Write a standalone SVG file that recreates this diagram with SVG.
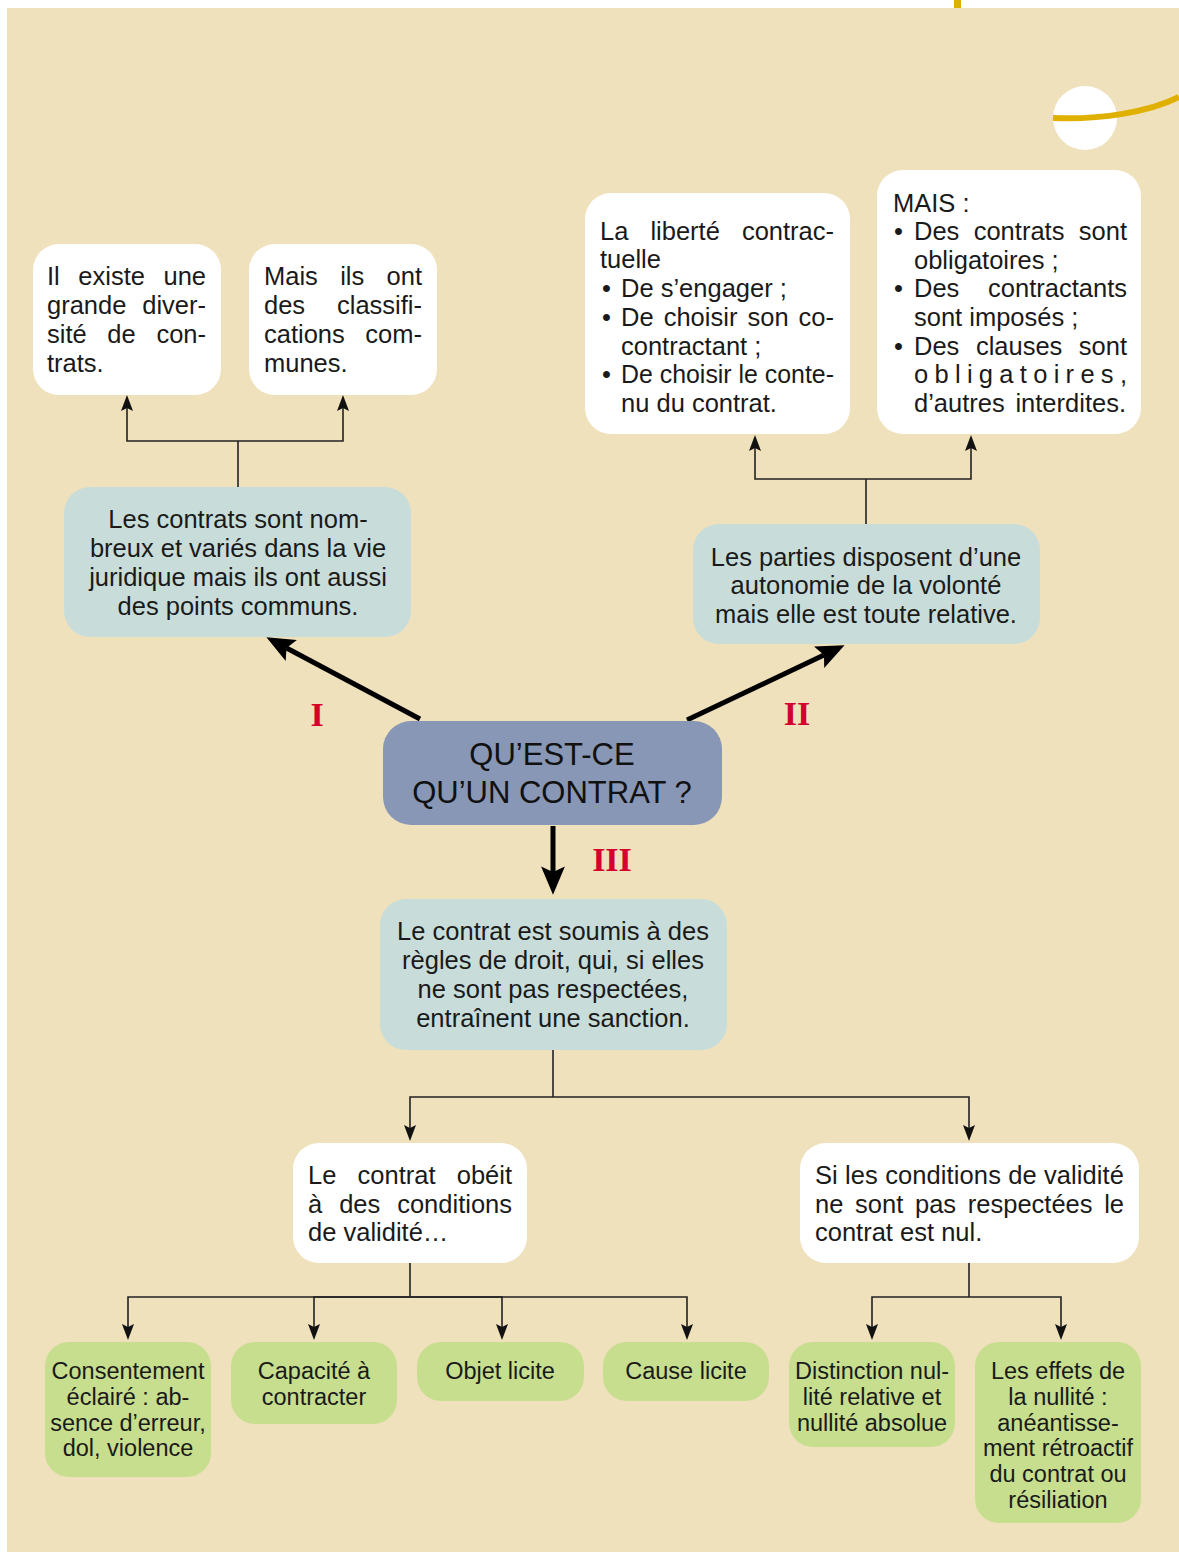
<svg xmlns="http://www.w3.org/2000/svg" width="1179" height="1553" viewBox="0 0 1179 1553">
<style>
.t{font-family:"Liberation Sans",Arial,sans-serif;font-size:25.5px;fill:#1a1a1a}
.c{text-anchor:middle}
.e{text-anchor:end}
.g{font-family:"Liberation Sans",Arial,sans-serif;font-size:23.5px;fill:#1a1a1a;text-anchor:middle}
.h{font-family:"Liberation Sans",Arial,sans-serif;font-size:31px;fill:#111;text-anchor:middle}
.r{font-family:"Liberation Serif","Times New Roman",serif;font-size:34px;font-weight:bold;fill:#D6002F;text-anchor:middle}
.w{fill:#fff}
.b{fill:#C8DDD9}
.gr{fill:#C6DE8E}
.thin{fill:none;stroke:#222;stroke-width:1.6}
.thick{fill:none;stroke:#000;stroke-width:5}
</style>
<defs>
<marker id="ah" markerUnits="userSpaceOnUse" markerWidth="20" markerHeight="14" viewBox="0 -7 17 14" refX="3" refY="0" orient="auto">
<path d="M0,-6 L16,0 L0,6 L3,0 z" fill="#111"/>
</marker>
<marker id="AH" markerUnits="userSpaceOnUse" markerWidth="30" markerHeight="26" viewBox="0 -12 27 24" refX="5" refY="0" orient="auto">
<path d="M0,-11 L26,0 L0,11 L5,0 z" fill="#000"/>
</marker>
</defs>
<rect x="0" y="0" width="1179" height="1553" fill="#fff"/>
<rect x="7" y="8" width="1172" height="1544" fill="#F0E1BD"/>
<rect x="954" y="0" width="7" height="8" fill="#E0B000"/>
<circle cx="1085" cy="118" r="32" fill="#fff"/>
<path d="M1053,118 C1100,120 1150,112 1179,97" fill="none" stroke="#E0B000" stroke-width="6"/>

<g id="connectors">
<path class="thin" d="M238,487 V441"/>
<path class="thin" d="M238,441 H127 V408" marker-end="url(#ah)"/>
<path class="thin" d="M238,441 H343 V408" marker-end="url(#ah)"/>
<path class="thin" d="M866,524 V479"/>
<path class="thin" d="M866,479 H755 V448" marker-end="url(#ah)"/>
<path class="thin" d="M866,479 H971 V448" marker-end="url(#ah)"/>
<path class="thin" d="M553,1050 V1097"/>
<path class="thin" d="M553,1097 H410 V1128" marker-end="url(#ah)"/>
<path class="thin" d="M553,1097 H969 V1128" marker-end="url(#ah)"/>
<path class="thin" d="M410,1263 V1297"/>
<path class="thin" d="M410,1297 H128 V1327" marker-end="url(#ah)"/>
<path class="thin" d="M410,1297 H314 V1327" marker-end="url(#ah)"/>
<path class="thin" d="M410,1297 H502 V1327" marker-end="url(#ah)"/>
<path class="thin" d="M410,1297 H687 V1327" marker-end="url(#ah)"/>
<path class="thin" d="M969,1263 V1297"/>
<path class="thin" d="M969,1297 H872 V1327" marker-end="url(#ah)"/>
<path class="thin" d="M969,1297 H1061 V1327" marker-end="url(#ah)"/>
<path class="thick" d="M420,719 L286.5,648" marker-end="url(#AH)"/>
<path class="thick" d="M687,720 L824,655" marker-end="url(#AH)"/>
<path class="thick" d="M553,826 V872" marker-end="url(#AH)"/>
<text class="r" x="317" y="726">I</text>
<text class="r" x="797" y="725">II</text>
<text class="r" x="612" y="871">III</text>
</g>

<g id="n-diversite">
<rect class="w" x="33" y="244" width="188" height="151" rx="26"/>
<text class="t" y="285"><tspan x="47">Il</tspan><tspan x="78.3">existe</tspan><tspan class="e" x="206">une</tspan></text>
<text class="t" y="314"><tspan x="47">grande</tspan><tspan class="e" x="206">diver-</tspan></text>
<text class="t" y="343"><tspan x="47">sité</tspan><tspan x="107.3">de</tspan><tspan class="e" x="206">con-</tspan></text>
<text class="t" x="47" y="372">trats.</text>
</g>

<g id="n-classifications">
<rect class="w" x="249" y="244" width="188" height="151" rx="26"/>
<text class="t" y="285"><tspan x="264">Mais</tspan><tspan x="340.2">ils</tspan><tspan class="e" x="422">ont</tspan></text>
<text class="t" y="314"><tspan x="264">des</tspan><tspan class="e" x="422">classifi-</tspan></text>
<text class="t" y="343"><tspan x="264">cations</tspan><tspan class="e" x="422">com-</tspan></text>
<text class="t" x="264" y="372">munes.</text>
</g>

<g id="n-liberte">
<rect class="w" x="585" y="193" width="265" height="241" rx="26"/>
<text class="t" y="240"><tspan x="600">La</tspan><tspan x="650.4">liberté</tspan><tspan class="e" x="834">contrac-</tspan></text>
<text class="t" x="600" y="268">tuelle</text>
<text class="t" x="602" y="297">•</text>
<text class="t" x="621" y="297">De s’engager ;</text>
<text class="t" x="602" y="326">•</text>
<text class="t" y="326"><tspan x="621">De</tspan><tspan x="663.7">choisir</tspan><tspan x="747.5">son</tspan><tspan class="e" x="834">co-</tspan></text>
<text class="t" x="621" y="355">contractant ;</text>
<text class="t" x="602" y="383">•</text>
<text class="t" x="621" y="383" textLength="213" lengthAdjust="spacingAndGlyphs">De choisir le conte-</text>
<text class="t" x="621" y="412">nu du contrat.</text>
</g>

<g id="n-mais">
<rect class="w" x="877" y="170" width="264" height="264" rx="26"/>
<text class="t" x="893" y="212">MAIS :</text>
<text class="t" x="894" y="240">•</text>
<text class="t" y="240"><tspan x="914">Des</tspan><tspan x="973.7">contrats</tspan><tspan class="e" x="1127">sont</tspan></text>
<text class="t" x="914" y="269">obligatoires ;</text>
<text class="t" x="894" y="297">•</text>
<text class="t" y="297"><tspan x="914">Des</tspan><tspan class="e" x="1127">contractants</tspan></text>
<text class="t" x="914" y="326">sont imposés ;</text>
<text class="t" x="894" y="355">•</text>
<text class="t" y="355"><tspan x="914">Des</tspan><tspan x="975.9">clauses</tspan><tspan class="e" x="1127">sont</tspan></text>
<text class="t" x="914" y="383" textLength="213" lengthAdjust="spacing">obligatoires,</text>
<text class="t" y="412"><tspan x="914">d’autres</tspan><tspan class="e" x="1126">interdites.</tspan></text>
</g>

<g id="n-nombreux">
<rect class="b" x="64" y="487" width="347" height="150" rx="26"/>
<text class="t c" x="238" y="528">Les contrats sont nom-</text>
<text class="t c" x="238" y="557">breux et variés dans la vie</text>
<text class="t c" x="238" y="586">juridique mais ils ont aussi</text>
<text class="t c" x="238" y="615">des points communs.</text>
</g>

<g id="n-autonomie">
<rect class="b" x="693" y="524" width="347" height="120" rx="26"/>
<text class="t c" x="866" y="566">Les parties disposent d’une</text>
<text class="t c" x="866" y="594">autonomie de la volonté</text>
<text class="t c" x="866" y="623">mais elle est toute relative.</text>
</g>

<g id="n-contrat">
<rect x="383" y="721" width="339" height="104" rx="28" fill="#8797B5"/>
<text class="h" x="552" y="765">QU’EST-CE</text>
<text class="h" x="552" y="803">QU’UN CONTRAT ?</text>
</g>

<g id="n-soumis">
<rect class="b" x="380" y="899" width="347" height="151" rx="26"/>
<text class="t c" x="553" y="940">Le contrat est soumis à des</text>
<text class="t c" x="553" y="969">règles de droit, qui, si elles</text>
<text class="t c" x="553" y="998">ne sont pas respectées,</text>
<text class="t c" x="553" y="1027">entraînent une sanction.</text>
</g>

<g id="n-obeit">
<rect class="w" x="293" y="1143" width="234" height="120" rx="26"/>
<text class="t" y="1184"><tspan x="308">Le</tspan><tspan x="357.6">contrat</tspan><tspan class="e" x="512">obéit</tspan></text>
<text class="t" y="1213"><tspan x="308">à</tspan><tspan x="339.2">des</tspan><tspan class="e" x="512">conditions</tspan></text>
<text class="t" x="308" y="1241">de validité…</text>
</g>

<g id="n-nul">
<rect class="w" x="800" y="1143" width="339" height="120" rx="26"/>
<text class="t" x="815" y="1184" textLength="309" lengthAdjust="spacing">Si les conditions de validité</text>
<text class="t" y="1213"><tspan x="815">ne</tspan><tspan x="855.1">sont</tspan><tspan x="915">pas</tspan><tspan x="967.8">respectées</tspan><tspan class="e" x="1124">le</tspan></text>
<text class="t" x="815" y="1241">contrat est nul.</text>
</g>

<g id="n-consentement">
<rect class="gr" x="45" y="1342" width="166" height="135" rx="24"/>
<text class="g" x="128" y="1379">Consentement</text>
<text class="g" x="128" y="1405">éclairé : ab-</text>
<text class="g" x="128" y="1431">sence d’erreur,</text>
<text class="g" x="128" y="1456">dol, violence</text>
</g>

<g id="n-capacite">
<rect class="gr" x="231" y="1342" width="166" height="82" rx="24"/>
<text class="g" x="314" y="1379">Capacité à</text>
<text class="g" x="314" y="1405">contracter</text>
</g>

<g id="n-objet">
<rect class="gr" x="417" y="1342" width="167" height="59" rx="24"/>
<text class="g" x="500" y="1379">Objet licite</text>
</g>

<g id="n-cause">
<rect class="gr" x="603" y="1342" width="166" height="59" rx="24"/>
<text class="g" x="686" y="1379">Cause licite</text>
</g>

<g id="n-distinction">
<rect class="gr" x="789" y="1342" width="166" height="105" rx="24"/>
<text class="g" x="872" y="1379">Distinction nul-</text>
<text class="g" x="872" y="1405">lité relative et</text>
<text class="g" x="872" y="1431">nullité absolue</text>
</g>

<g id="n-effets">
<rect class="gr" x="975" y="1342" width="166" height="181" rx="24"/>
<text class="g" x="1058" y="1379">Les effets de</text>
<text class="g" x="1058" y="1405">la nullité :</text>
<text class="g" x="1058" y="1431">anéantisse-</text>
<text class="g" x="1058" y="1456">ment rétroactif</text>
<text class="g" x="1058" y="1482">du contrat ou</text>
<text class="g" x="1058" y="1508">résiliation</text>
</g>
</svg>
